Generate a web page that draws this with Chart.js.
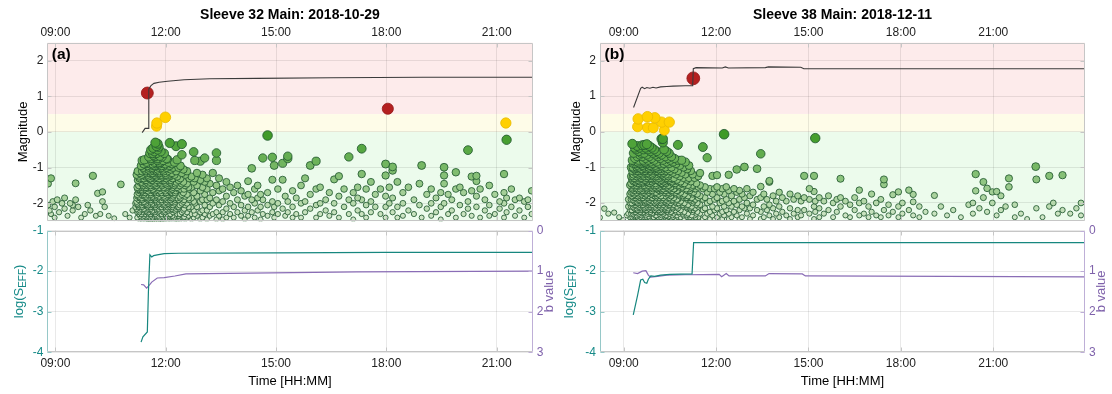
<!DOCTYPE html>
<html><head><meta charset="utf-8">
<script src="https://cdn.jsdelivr.net/npm/chart.js@4.4.1/dist/chart.umd.min.js"></script>
<style>
html,body{margin:0;padding:0;background:#fff;}
#wrap{position:relative;width:1112px;height:394px;overflow:hidden;background:#fff;}
canvas{position:absolute;}
</style></head><body>
<div id="wrap">
<canvas id="ta" width="556" height="228" style="left:0;top:0"></canvas>
<canvas id="tb" width="556" height="228" style="left:556px;top:0"></canvas>
<canvas id="ba" width="556" height="170" style="left:0;top:224px"></canvas>
<canvas id="bb" width="556" height="170" style="left:556px;top:224px"></canvas>
</div>
<script>
// ---------------- DATA ----------------
const titleA = 'Sleeve 32 Main: 2018-10-29';
const titleB = 'Sleeve 38 Main: 2018-12-11';
const panelLabels = ['(a)', '(b)'];
const timeTicks = [9, 12, 15, 18, 21];      // hours
const magTicks = [-2, -1, 0, 1, 2];
const sTicks = [-4, -3, -2, -1];
const bTicks = [0, 1, 2, 3];
const xRangeA = [8.78, 21.98];
const xRangeB = [8.23, 23.98];
const magRange = [-2.5, 2.5];
const bandLimits = [-2.5, 0, 0.5, 2.5];     // green / yellow / red zones

// events, panel (a): [time (h), magnitudes...]
const quakesA = [
[8.80,-1.45,-2.05],[8.84,-2.2],[8.88,-1.3,-2.3],[8.93,-1.95],[8.98,-2.1,-2.4],[9.05,-1.9],[9.1,-2.25],[9.18,-2.0],[9.25,-2.15,-1.85],[9.33,-2.35],[9.4,-2.0],[9.47,-2.05,-2.2],[9.55,-1.44,-1.9],[9.62,-2.1],[9.7,-2.4],[9.8,-2.3],[9.88,-2.05],[9.95,-2.2],[10.02,-1.23],[10.1,-2.35],[10.15,-1.72],[10.22,-2.3],[10.28,-1.68,-1.95],[10.34,-2.1],[10.45,-2.35],[10.6,-2.42],[10.78,-1.47],[10.9,-2.3],[11.02,-2.4],[11.1,-2.2],
[11.18,-2.0,-2.1],[11.21,-1.85,-1.2,-1.95,-2.15],[11.24,-1.1,-1.35,-1.6,-1.8,-2.05,-2.2],[11.27,-1.25,-1.5,-1.7,-1.9,-2.1,-2.3],[11.30,-1.15,-1.4,-1.65,-1.85,-2.0,-2.2,-2.35],[11.33,-0.95,-1.3,-1.55,-1.75,-1.95,-2.15,-2.4],[11.36,-0.8,-1.1,-1.45,-1.65,-1.9,-2.1,-2.25,-2.45],[11.39,-1.0,-1.2,-1.5,-1.7,-1.85,-2.05,-2.3,-2.4],[11.42,-0.78,-1.05,-1.35,-1.6,-1.8,-2.0,-2.2,-2.35],[11.45,-0.9,-1.25,-1.45,-1.7,-1.95,-2.15,-2.3,-2.45],[11.48,-0.85,-1.15,-1.4,-1.65,-1.85,-2.05,-2.25,-2.4],[11.51,-0.95,-1.2,-1.5,-1.75,-1.9,-2.1,-2.2,-2.35,-2.45],[11.54,-0.7,-1.0,-1.3,-1.55,-1.8,-2.0,-2.15,-2.3,-2.45],[11.57,-0.6,-0.9,-1.15,-1.4,-1.6,-1.85,-2.05,-2.25,-2.4],[11.60,-0.5,-0.8,-1.05,-1.35,-1.55,-1.75,-1.95,-2.15,-2.35,-2.45],[11.63,-0.75,-1.0,-1.25,-1.45,-1.7,-1.9,-2.1,-2.3,-2.45],[11.66,-0.45,-0.65,-0.95,-1.2,-1.5,-1.65,-1.85,-2.05,-2.25,-2.4],[11.69,-0.55,-0.85,-1.1,-1.3,-1.6,-1.8,-2.0,-2.2,-2.35,-2.48],[11.72,-0.3,-0.68,-0.9,-1.15,-1.4,-1.7,-1.9,-2.1,-2.3,-2.45],[11.75,-0.4,-0.6,-0.95,-1.25,-1.5,-1.75,-1.95,-2.15,-2.35,-2.48],[11.78,-0.33,-0.5,-0.8,-1.05,-1.3,-1.6,-1.85,-2.05,-2.25,-2.4],[11.81,-0.42,-0.75,-1.0,-1.2,-1.45,-1.7,-1.95,-2.15,-2.35,-2.47],[11.84,-0.68,-0.9,-1.15,-1.4,-1.65,-1.9,-2.1,-2.3,-2.45],[11.87,-0.55,-0.85,-1.1,-1.35,-1.55,-1.8,-2.0,-2.2,-2.4],[11.90,-0.7,-1.0,-1.25,-1.5,-1.75,-1.95,-2.15,-2.35,-2.48],[11.93,-0.8,-1.05,-1.3,-1.6,-1.85,-2.05,-2.25,-2.42],[11.96,-0.6,-0.95,-1.2,-1.45,-1.7,-1.9,-2.1,-2.3,-2.45],[11.99,-0.9,-1.15,-1.4,-1.65,-1.85,-2.05,-2.25,-2.4],[12.02,-0.75,-1.0,-1.3,-1.55,-1.8,-2.0,-2.2,-2.38],[12.05,-0.76,-1.1,-1.35,-1.6,-1.9,-2.1,-2.3,-2.45],[12.08,-0.85,-1.2,-1.45,-1.7,-1.95,-2.15,-2.35],[12.11,-0.31,-0.95,-1.25,-1.5,-1.75,-2.0,-2.2,-2.4],[12.14,-1.05,-1.35,-1.6,-1.85,-2.05,-2.3,-2.45],[12.17,-0.9,-1.15,-1.45,-1.7,-1.95,-2.15,-2.35],[12.20,-1.0,-1.3,-1.55,-1.8,-2.05,-2.25,-2.42],[12.24,-0.85,-1.2,-1.5,-1.75,-2.0,-2.2,-2.4],[12.28,-0.4,-1.1,-1.4,-1.65,-1.9,-2.15,-2.35],[12.31,-0.78,-1.25,-1.55,-1.85,-2.1,-2.3,-2.45],[12.35,-1.0,-1.35,-1.6,-1.9,-2.1,-2.35],[12.40,-0.95,-1.3,-1.6,-1.85,-2.05,-2.3,-2.45],[12.44,-0.34,-0.64,-1.15,-1.45,-1.75,-2.0,-2.25,-2.4],[12.48,-1.05,-1.4,-1.7,-1.95,-2.2,-2.4],[12.53,-1.2,-1.5,-1.8,-2.05,-2.3,-2.45],[12.58,-1.1,-1.45,-1.75,-2.0,-2.25,-2.4],[12.64,-1.3,-1.6,-1.9,-2.15,-2.35],[12.70,-1.25,-1.55,-1.85,-2.1,-2.3,-2.45],[12.76,-0.56,-1.4,-1.7,-1.95,-2.2,-2.4],[12.79,-0.8,-1.3,-2.0,-2.3],[12.85,-1.15,-1.5,-1.8,-2.1,-2.35],[12.94,-0.82,-1.35,-1.65,-1.95,-2.25,-2.45],[13.00,-1.2,-1.55,-1.9,-2.2,-2.4],[13.06,-0.73,-1.4,-1.75,-2.05,-2.3],[13.12,-1.3,-1.6,-1.9,-2.2,-2.45],[13.20,-1.45,-1.85,-2.1,-2.35],[13.28,-1.15,-1.7,-2.0,-2.3],[13.38,-0.59,-0.8,-1.5,-1.9,-2.25,-2.45],[13.45,-1.3,-1.65,-2.05,-2.35],[13.55,-1.6,-1.95,-2.25,-2.45],[13.65,-1.4,-1.8,-2.15,-2.4],[13.75,-1.55,-2.0,-2.3],[13.85,-1.7,-2.1,-2.4],[13.95,-1.5,-1.9,-2.25],[14.05,-1.65,-2.05,-2.35],[14.15,-1.8,-2.2,-2.45],[14.24,-1.38,-1.75,-2.1,-2.35],[14.34,-1.02,-1.9,-2.25],[14.42,-1.6,-2.0,-2.4],[14.50,-1.5,-1.85,-2.2],[14.58,-1.75,-2.1,-2.45],[14.64,-0.73,-1.9,-2.3],[14.77,-0.10,-1.7,-2.05,-2.35],[14.9,-0.71,-1.34,-1.95,-2.25],[14.95,-0.94,-2.1,-2.4],[15.05,-1.6,-2.0,-2.3],[15.18,-0.88,-1.34,-2.15],[15.25,-1.8,-2.35],[15.32,-0.68,-0.75,-1.95,-2.25],[15.45,-1.65,-2.1,-2.4],[15.55,-1.85,-2.3],[15.68,-1.5,-2.0,-2.4],[15.79,-1.3,-1.95,-2.25],[15.93,-0.94,-1.75,-2.15],[16.09,-0.82,-1.6,-2.05,-2.4],[16.2,-1.55,-2.0,-2.3],[16.35,-1.9,-2.2],[16.45,-1.7,-2.35],[16.58,-1.33,-2.0,-2.25],[16.71,-1.24,-1.8,-2.4],[16.85,-1.6,-2.1],[16.98,-0.70,-1.9,-2.3],[17.1,-1.7,-2.0,-2.45],[17.22,-1.55,-1.85,-2.2],[17.33,-0.47,-1.18,-1.9,-2.3],[17.45,-1.6,-2.05,-2.4],[17.58,-1.4,-1.95,-2.25],[17.7,-1.75,-2.1],[17.84,-1.6,-2.3],[17.98,-0.90,-1.22,-1.8,-2.1,-2.4],[18.08,-1.55,-2.0],[18.17,-0.98,-1.08,-1.85,-2.25],[18.3,-1.4,-2.1,-2.4],[18.45,-1.7,-2.0,-2.35],[18.6,-1.55,-2.2],[18.75,-1.9,-2.3],[18.9,-1.45,-2.05],[18.96,-0.94,-2.4],[19.1,-1.75,-2.15],[19.22,-1.6,-2.0,-2.35],[19.35,-1.85,-2.25],[19.48,-1.7,-2.1,-2.45],[19.57,-0.99,-1.22,-1.45,-2.0],[19.68,-1.75,-2.3],[19.78,-1.9,-2.2],[19.89,-1.13,-1.6,-2.4],[20.0,-1.55,-2.05],[20.1,-1.7,-2.3],[20.22,-0.51,-1.95,-2.15],[20.32,-1.25,-1.65,-2.35],[20.45,-1.23,-1.38,-1.8,-2.1],[20.55,-1.6,-2.4],[20.68,-1.9,-2.2],[20.8,-1.5,-2.05,-2.35],[20.95,-1.75,-2.3],[21.08,-1.95,-2.15],[21.2,-1.18,-1.7,-2.0,-2.4],[21.27,-0.22,-1.85,-2.25],[21.4,-1.6,-2.1],[21.5,-1.9,-2.35],[21.62,-1.85,-2.2],[21.75,-1.95,-2.4],[21.85,-1.9,-2.1],[21.95,-1.65,-2.3],
[11.225,-1.55,-1.75,-2.0,-2.25,-2.4],[11.285,-1.3,-1.6,-1.8,-2.05,-2.25,-2.45],[11.345,-1.2,-1.4,-1.6,-1.85,-2.05,-2.3],[11.405,-0.9,-1.3,-1.55,-1.75,-1.95,-2.15,-2.35],[11.465,-1.1,-1.35,-1.55,-1.8,-2.0,-2.2,-2.38],[11.525,-1.05,-1.25,-1.45,-1.65,-1.85,-2.05,-2.25,-2.42],[11.585,-0.75,-1.1,-1.3,-1.5,-1.7,-1.9,-2.1,-2.3,-2.48],[11.645,-0.6,-0.9,-1.15,-1.35,-1.6,-1.8,-2.0,-2.2,-2.4],[11.705,-0.7,-0.95,-1.2,-1.45,-1.65,-1.85,-2.05,-2.25,-2.42],[11.765,-0.75,-1.1,-1.35,-1.55,-1.8,-2.0,-2.2,-2.4],[11.825,-0.85,-1.1,-1.3,-1.55,-1.8,-2.0,-2.2,-2.4],[11.885,-0.95,-1.2,-1.45,-1.7,-1.9,-2.1,-2.3,-2.45],[11.945,-1.1,-1.35,-1.55,-1.8,-2.0,-2.2,-2.4],[12.005,-1.2,-1.45,-1.7,-1.95,-2.15,-2.35],[12.065,-1.25,-1.5,-1.75,-2.0,-2.2,-2.4],[12.125,-1.4,-1.65,-1.9,-2.1,-2.3],[12.185,-1.3,-1.6,-1.85,-2.1,-2.35],[12.26,-1.45,-1.7,-1.95,-2.2,-2.45],[12.38,-1.5,-1.8,-2.05,-2.3],[12.5,-1.6,-1.9,-2.15,-2.38],[12.62,-1.55,-1.85,-2.1,-2.35],
[11.50,1.09],[18.04,0.65],[11.75,0.16],[11.76,0.25],[11.99,0.41],[21.25,0.25]
];

// events, panel (b)
const quakesB = [
[8.23,-2.41],[8.37,-2.16],[8.5,-2.3],[8.69,-2.27],[8.85,-2.4],[8.98,-2.48],[9.1,-2.35],
[9.15,-1.9,-2.1,-2.3],[9.2,-1.5,-1.75,-2.0,-2.2,-2.4],[9.24,-1.0,-1.25,-1.45,-1.7,-1.9,-2.1,-2.3,-2.45],[9.28,-0.34,-0.8,-1.1,-1.35,-1.6,-1.8,-2.0,-2.2,-2.4],[9.32,-0.6,-0.9,-1.2,-1.4,-1.65,-1.85,-2.05,-2.25,-2.45],[9.36,-0.45,-0.75,-1.0,-1.3,-1.55,-1.75,-1.95,-2.15,-2.35],[9.40,-0.5,-0.85,-1.1,-1.35,-1.6,-1.8,-2.0,-2.2,-2.4],[9.44,-0.4,-0.7,-0.95,-1.2,-1.45,-1.7,-1.9,-2.1,-2.3,-2.47],[9.48,-0.55,-0.8,-1.05,-1.3,-1.5,-1.75,-1.95,-2.15,-2.35],[9.52,-0.45,-0.65,-0.9,-1.15,-1.4,-1.6,-1.85,-2.05,-2.25,-2.45],[9.56,-0.6,-0.85,-1.1,-1.3,-1.55,-1.8,-2.0,-2.2,-2.4],[9.60,-0.38,-0.7,-0.95,-1.25,-1.45,-1.7,-1.9,-2.1,-2.3,-2.46],[9.64,-0.5,-0.8,-1.05,-1.35,-1.6,-1.85,-2.05,-2.25,-2.45],[9.67,-0.37,-0.6,-0.9,-1.15,-1.4,-1.65,-1.9,-2.1,-2.3],[9.71,-0.45,-0.75,-1.0,-1.25,-1.5,-1.75,-1.95,-2.15,-2.35,-2.48],[9.75,-0.35,-0.65,-0.85,-1.1,-1.35,-1.6,-1.8,-2.0,-2.2,-2.4],[9.79,-0.5,-0.8,-1.05,-1.3,-1.55,-1.8,-2.05,-2.25,-2.45],[9.83,-0.4,-0.7,-0.95,-1.2,-1.45,-1.7,-1.9,-2.1,-2.3],[9.87,-0.55,-0.85,-1.1,-1.4,-1.65,-1.85,-2.05,-2.25,-2.45],[9.91,-0.45,-0.75,-1.0,-1.25,-1.5,-1.75,-1.95,-2.15,-2.4],[9.95,-0.6,-0.9,-1.15,-1.35,-1.6,-1.85,-2.1,-2.3,-2.48],[9.99,-0.5,-0.8,-1.05,-1.3,-1.55,-1.8,-2.0,-2.2,-2.4],[10.03,-0.65,-0.95,-1.2,-1.45,-1.7,-1.9,-2.1,-2.35],[10.07,-0.55,-0.85,-1.1,-1.35,-1.6,-1.85,-2.05,-2.25,-2.45],[10.11,-0.7,-1.0,-1.25,-1.5,-1.75,-1.95,-2.15,-2.4],[10.15,-0.6,-0.9,-1.15,-1.4,-1.65,-1.9,-2.1,-2.3,-2.47],[10.19,-0.75,-1.05,-1.3,-1.55,-1.8,-2.0,-2.2,-2.4],[10.23,-0.2,-0.65,-0.95,-1.2,-1.45,-1.7,-1.95,-2.15,-2.35],[10.27,-0.3,-0.8,-1.1,-1.35,-1.6,-1.85,-2.05,-2.25,-2.45],[10.31,-0.5,-0.9,-1.15,-1.4,-1.65,-1.9,-2.1,-2.3],[10.35,-0.7,-1.0,-1.3,-1.55,-1.8,-2.0,-2.2,-2.42],[10.39,-0.55,-0.85,-1.1,-1.4,-1.7,-1.95,-2.15,-2.35],[10.43,-0.75,-1.05,-1.35,-1.6,-1.85,-2.05,-2.25,-2.45],[10.47,-0.6,-0.9,-1.2,-1.5,-1.75,-2.0,-2.2,-2.4],[10.51,-0.8,-1.1,-1.4,-1.65,-1.9,-2.1,-2.3],[10.55,-0.7,-1.0,-1.3,-1.55,-1.8,-2.05,-2.25,-2.45],[10.60,-0.85,-1.15,-1.45,-1.7,-1.95,-2.15,-2.4],[10.65,-0.75,-1.05,-1.35,-1.6,-1.9,-2.1,-2.35],[10.70,-0.9,-1.2,-1.5,-1.75,-2.0,-2.25,-2.45],[10.76,-0.37,-0.8,-1.1,-1.4,-1.65,-1.9,-2.15,-2.4],[10.82,-0.95,-1.25,-1.55,-1.8,-2.05,-2.3],[10.88,-0.8,-1.15,-1.45,-1.75,-2.0,-2.25,-2.45],[10.94,-1.0,-1.3,-1.6,-1.85,-2.1,-2.35],[11.0,-0.85,-1.2,-1.5,-1.8,-2.05,-2.3,-2.48],[11.06,-1.05,-1.35,-1.65,-1.9,-2.15,-2.4],[11.12,-0.95,-1.3,-1.6,-1.85,-2.1,-2.35],[11.18,-1.1,-1.4,-1.7,-1.95,-2.2,-2.45],[11.24,-1.2,-1.5,-1.75,-2.0,-2.25,-2.4],[11.30,-1.3,-1.6,-1.9,-2.15,-2.35],[11.36,-1.45,-1.75,-2.05,-2.3,-2.48],[11.42,-1.25,-1.55,-1.85,-2.1,-2.4],[11.48,-1.16,-1.5,-1.8,-2.05,-2.3],[11.57,-0.43,-1.6,-1.9,-2.2,-2.45],[11.64,-1.55,-1.85,-2.15,-2.4],[11.71,-0.73,-1.7,-2.0,-2.3],[11.80,-1.6,-1.95,-2.25,-2.45],[11.88,-1.24,-1.75,-2.1,-2.35],[11.95,-1.6,-1.9,-2.2,-2.45],[12.03,-1.22,-1.55,-1.85,-2.15,-2.4],[12.12,-1.7,-2.0,-2.3],[12.20,-1.6,-1.95,-2.25,-2.45],[12.26,-0.07,-1.75,-2.1,-2.35],[12.33,-1.55,-1.9,-2.2],[12.41,-1.21,-1.65,-2.0,-2.3,-2.45],[12.50,-1.8,-2.1,-2.4],[12.58,-1.6,-1.95,-2.25],[12.67,-1.06,-1.7,-2.05,-2.35],[12.76,-1.65,-1.9,-2.2,-2.45],[12.84,-1.75,-2.1,-2.4],[12.92,-0.99,-1.85,-2.15],[13.0,-1.6,-2.0,-2.3],[13.1,-1.8,-2.15,-2.45],[13.2,-1.7,-2.05,-2.35],[13.33,-1.04,-1.9,-2.2],[13.45,-0.62,-1.54,-1.85,-2.25,-2.45],[13.55,-1.75,-2.1,-2.4],[13.65,-1.9,-2.2],[13.73,-1.38,-1.41,-2.05,-2.35],[13.85,-1.8,-2.15,-2.45],[13.95,-1.95,-2.3],[14.05,-1.7,-2.1,-2.4],[14.15,-1.85,-2.25],[14.28,-1.95,-2.35],[14.4,-1.75,-2.15,-2.45],[14.52,-1.9,-2.3],[14.65,-1.8,-2.2,-2.4],[14.76,-1.95,-2.35],[14.86,-1.24,-1.85,-2.2],[15.03,-1.6,-1.9,-2.3],[15.18,-1.24,-1.68,-2.1,-2.45],[15.22,-0.18,-1.95,-2.25],[15.35,-1.85,-2.15,-2.4],[15.5,-1.95,-2.3],[15.65,-1.8,-2.2],[15.8,-2.0,-2.4],[15.92,-1.9,-2.25],[16.04,-1.32,-1.85,-2.1],[16.2,-1.95,-2.35],[16.35,-2.05,-2.4],[16.5,-1.85,-2.2],[16.65,-1.64,-2.0,-2.35],[16.8,-1.95,-2.3],[16.95,-2.1,-2.4],[17.05,-1.75,-2.25],[17.2,-2.0,-2.35],[17.35,-1.9,-2.4],[17.45,-1.34,-1.48,-2.2],[17.6,-2.05,-2.35],[17.74,-1.77,-2.25],[17.92,-1.69,-2.1,-2.4],[18.05,-2.0,-2.3],[18.26,-1.64,-2.2],[18.4,-1.76,-1.97,-2.35],[18.6,-2.1,-2.4],[18.8,-2.25],[19.09,-1.79,-2.3],[19.3,-2.1],[19.5,-2.35],[19.7,-2.2],[19.95,-2.4],[20.2,-2.05],[20.34,-2.0,-2.3],[20.43,-1.19,-1.66],[20.55,-2.15],[20.68,-1.41,-1.85],[20.8,-1.59,-2.25],[20.97,-1.69,-2.0],[21.11,-1.68,-2.35],[21.25,-1.8,-2.2],[21.4,-2.1],[21.51,-1.31,-1.55],[21.7,-2.05,-2.4],[21.9,-2.3],[22.1,-2.45],[22.38,-0.98],[22.4,-1.34,-2.15],[22.6,-2.4],[22.82,-1.24,-2.1],[22.95,-2.0],[23.1,-2.3],[23.25,-1.22,-2.2],[23.5,-2.3],[23.7,-2.15],[23.85,-2.0,-2.35],
[9.26,-1.3,-1.55,-1.8,-2.0,-2.2,-2.45],[9.30,-1.0,-1.25,-1.5,-1.7,-1.9,-2.1,-2.3],[9.34,-1.05,-1.3,-1.5,-1.75,-1.95,-2.15,-2.38],[9.38,-0.9,-1.15,-1.4,-1.65,-1.85,-2.05,-2.25,-2.45],[9.42,-1.0,-1.25,-1.5,-1.7,-1.95,-2.15,-2.35],[9.46,-0.85,-1.1,-1.35,-1.6,-1.8,-2.0,-2.2,-2.42],[9.50,-1.0,-1.2,-1.45,-1.65,-1.9,-2.1,-2.3],[9.54,-0.9,-1.15,-1.4,-1.6,-1.85,-2.05,-2.25,-2.45],[9.58,-1.05,-1.3,-1.5,-1.75,-1.95,-2.15,-2.35],[9.62,-0.95,-1.2,-1.4,-1.65,-1.85,-2.05,-2.28,-2.45],[9.66,-1.0,-1.25,-1.5,-1.7,-1.95,-2.15,-2.4],[9.69,-0.85,-1.1,-1.35,-1.55,-1.8,-2.0,-2.2,-2.42],[9.73,-1.05,-1.3,-1.55,-1.75,-1.95,-2.2,-2.4],[9.77,-0.9,-1.15,-1.4,-1.65,-1.85,-2.1,-2.3],[9.81,-1.0,-1.25,-1.5,-1.7,-1.95,-2.15,-2.38],[9.85,-0.95,-1.2,-1.45,-1.65,-1.9,-2.1,-2.32],[9.89,-1.05,-1.3,-1.55,-1.75,-2.0,-2.2,-2.45],[9.93,-0.9,-1.2,-1.4,-1.65,-1.85,-2.05,-2.28],[9.97,-1.0,-1.25,-1.5,-1.7,-1.95,-2.15,-2.4],[10.01,-1.1,-1.35,-1.55,-1.8,-2.0,-2.2,-2.45],[10.05,-1.0,-1.25,-1.5,-1.7,-1.95,-2.15,-2.35],[10.09,-1.1,-1.35,-1.6,-1.8,-2.05,-2.25,-2.42],[10.13,-1.05,-1.3,-1.55,-1.75,-2.0,-2.2,-2.4],[10.17,-1.15,-1.4,-1.6,-1.85,-2.05,-2.25,-2.45],[10.21,-1.1,-1.35,-1.6,-1.8,-2.0,-2.25,-2.4],[10.25,-1.2,-1.45,-1.65,-1.9,-2.1,-2.3],[10.29,-1.15,-1.4,-1.6,-1.85,-2.05,-2.3,-2.45],[10.33,-1.25,-1.5,-1.7,-1.95,-2.15,-2.38],[10.37,-1.2,-1.45,-1.65,-1.9,-2.1,-2.35],[10.41,-1.3,-1.55,-1.75,-2.0,-2.2,-2.42],[10.45,-1.25,-1.5,-1.7,-1.95,-2.15,-2.38],[10.49,-1.35,-1.6,-1.85,-2.05,-2.3],[10.53,-1.3,-1.55,-1.8,-2.0,-2.25,-2.45],[10.58,-1.4,-1.65,-1.9,-2.1,-2.35],[10.63,-1.3,-1.6,-1.85,-2.05,-2.3],[10.68,-1.45,-1.7,-1.95,-2.2,-2.42],[10.73,-1.35,-1.65,-1.9,-2.1,-2.35],[10.79,-1.5,-1.75,-2.0,-2.25,-2.45],[10.85,-1.4,-1.7,-1.95,-2.2,-2.4],[10.91,-1.55,-1.8,-2.05,-2.3],[10.97,-1.45,-1.75,-2.0,-2.25,-2.45],[11.03,-1.6,-1.85,-2.1,-2.35],[11.09,-1.5,-1.8,-2.05,-2.3],[11.15,-1.65,-1.9,-2.15,-2.4],[11.21,-1.55,-1.85,-2.1,-2.35],[11.27,-1.7,-1.95,-2.2,-2.45],[11.33,-1.6,-1.9,-2.15,-2.4],[11.39,-1.75,-2.0,-2.25],
[10.27,-0.20],[11.26,1.50],[9.47,0.36],[9.77,0.42],[10.01,0.39],[10.23,0.27],[10.48,0.27],[9.45,0.14],[9.77,0.11],[9.96,0.11],[10.32,0.04]
];

// cumulative magnitude line [time, mag]
const cumA = [[11.36,-0.02],[11.44,0.10],[11.52,0.10],[11.54,1.20],[11.60,1.30],[11.68,1.36],[11.82,1.39],[12.05,1.42],[12.5,1.46],[13.2,1.49],[14.5,1.50],[16.5,1.52],[19.0,1.53],[21.98,1.53]];
const cumB = [[9.32,0.68],[9.55,1.22],[9.6,1.25],[9.68,1.21],[9.75,1.24],[9.85,1.22],[9.95,1.25],[10.05,1.23],[10.2,1.26],[10.4,1.27],[10.6,1.28],[11.0,1.29],[11.24,1.29],[11.26,1.77],[11.35,1.80],[12.2,1.79],[12.3,1.82],[12.4,1.79],[13.6,1.80],[13.7,1.82],[14.75,1.81],[14.85,1.77],[23.98,1.77]];
// log(S_EFF) [time, value]
const sEffA = [[11.33,-3.75],[11.38,-3.62],[11.5,-3.5],[11.53,-2.5],[11.57,-1.6],[11.62,-1.65],[11.67,-1.62],[11.77,-1.6],[11.96,-1.57],[12.35,-1.56],[15.0,-1.55],[18.0,-1.54],[21.98,-1.54]];
const sEffB = [[9.31,-3.08],[9.45,-2.6],[9.55,-2.22],[9.62,-2.2],[9.68,-2.28],[9.75,-2.3],[9.8,-2.2],[9.88,-2.12],[10.0,-2.13],[10.2,-2.1],[10.5,-2.08],[11.22,-2.07],[11.27,-1.3],[23.98,-1.3]];
// b value [time, value]
const bValA = [[11.33,1.33],[11.40,1.34],[11.48,1.42],[11.55,1.35],[11.62,1.27],[11.77,1.17],[11.96,1.16],[12.25,1.12],[12.55,1.07],[14.3,1.05],[17.2,1.02],[21.98,1.0]];
const bValB = [[9.31,1.04],[9.45,1.06],[9.6,1.0],[9.72,0.99],[9.8,1.1],[9.87,1.15],[9.95,1.14],[10.1,1.13],[10.4,1.1],[11.0,1.09],[12.1,1.08],[12.18,1.14],[12.25,1.1],[12.33,1.06],[12.42,1.12],[13.6,1.12],[13.72,1.06],[14.8,1.07],[14.9,1.12],[23.98,1.14]];

// ---------------- STYLE ----------------
const FONT = '"Liberation Sans", Arial, Helvetica, sans-serif';
const TEAL = '#168a88', PURPLE = '#7f62ab';
const TEAL_LINE = '#17877f', PURPLE_LINE = '#8a6db6';
const GRID = 'rgba(0,0,0,0.085)';
const FRAME = '#c6c6c6';
const bandColors = ['rgb(236,251,236)', 'rgb(254,252,232)', 'rgb(253,235,235)'];

function hhmm(v){ const h = Math.floor(v + 1e-9); const m = Math.round((v - h) * 60); return String(h).padStart(2,'0') + ':' + String(m).padStart(2,'0'); }
function pts(arr){ return arr.map(p => ({x: p[0], y: p[1]})); }
function flatEvents(cols){ const out = []; cols.forEach(c => { for (let i = 1; i < c.length; i++) out.push({x: c[0], y: c[i]}); }); out.sort((a,b) => a.y - b.y); return out; }
function magRadius(m){ return Math.max(2.0, 4.9 + 1.0 * m); }
function magFill(m){
  if (m > 0.5) return 'rgb(180,32,32)';
  if (m >= 0) return 'rgb(255,208,0)';
  const t = Math.max(0, Math.min(1, (m + 2.5) / 2.5));
  const c0 = [214,233,206], c1 = [58,152,34];
  const c = c0.map((v,i) => Math.round(v + (c1[i] - v) * t));
  return 'rgb(' + c.join(',') + ')';
}
function magEdge(m){
  if (m > 0.5) return 'rgb(150,26,26)';
  if (m >= 0) return 'rgb(232,186,0)';
  return 'rgb(34,90,48)';
}
function fixedTicks(list){ return s => { s.ticks = list.map(v => ({value: v})); }; }
function noPad(s){ s.paddingTop = 0; s.paddingBottom = 0; s.paddingLeft = 0; s.paddingRight = 0; }

const framePlugin = {
  id: 'frame',
  beforeDraw(chart, args, o){
    const {ctx, chartArea: a} = chart;
    if (o.bands){
      const y = chart.scales.y;
      for (let i = 0; i < bandLimits.length - 1; i++){
        const y0 = y.getPixelForValue(bandLimits[i]), y1 = y.getPixelForValue(bandLimits[i+1]);
        ctx.fillStyle = bandColors[i];
        ctx.fillRect(a.left, y1, a.right - a.left, y0 - y1);
      }
    }
  },
  afterDraw(chart, args, o){
    const {ctx, chartArea: a} = chart;
    ctx.save();
    ctx.lineWidth = 1;
    const line = (x0,y0,x1,y1,c) => { ctx.strokeStyle = c; ctx.beginPath(); ctx.moveTo(x0,y0); ctx.lineTo(x1,y1); ctx.stroke(); };
    const L = Math.round(a.left) + 0.5, R = Math.round(a.right) - 0.5, T = Math.round(a.top) + 0.5, B = Math.round(a.bottom) - 0.5;
    line(L, T, R, T, FRAME); line(L, B, R, B, FRAME);
    line(L, T, L, B, o.left || FRAME); line(R, T, R, B, o.right || FRAME);
    const x = chart.scales.x;
    timeTicks.forEach(v => { const px = Math.round(x.getPixelForValue(v)) + 0.5; line(px, T, px, T + 4, FRAME); line(px, B, px, B - 4, FRAME); });
    const y = chart.scales.y;
    y.ticks.forEach(t => { const py = Math.round(y.getPixelForValue(t.value)) + 0.5; line(L, py, L + 4, py, o.left || FRAME); if (!o.right) line(R, py, R - 4, py, FRAME); });
    if (chart.scales.y2){ const y2 = chart.scales.y2; y2.ticks.forEach(t => { const py = Math.round(y2.getPixelForValue(t.value)) + 0.5; line(R, py, R - 4, py, o.right); }); }
    if (o.label){
      ctx.fillStyle = '#000'; ctx.font = 'bold 15.5px ' + FONT; ctx.textBaseline = 'middle'; ctx.textAlign = 'left';
      ctx.fillText(o.label, a.left + 4.5, a.top + 12.5);
    }
    if (o.logX !== undefined){
      const yc = (a.top + a.bottom) / 2;
      ctx.translate(o.logX, yc); ctx.rotate(-Math.PI / 2);
      const parts = [['log(S', '13px ' + FONT, 0], ['EFF', '10px ' + FONT, 4], [')', '13px ' + FONT, 0]];
      let w = 0; parts.forEach(p => { ctx.font = p[1]; p.w = ctx.measureText(p[0]).width; w += p.w; });
      let cx = -w / 2; ctx.fillStyle = TEAL; ctx.textBaseline = 'middle'; ctx.textAlign = 'left';
      parts.forEach(p => { ctx.font = p[1]; ctx.fillText(p[0], cx, p[2]); cx += p.w; });
      ctx.setTransform(1,0,0,1,0,0);
      ctx.translate(o.bX, yc); ctx.rotate(-Math.PI / 2);
      ctx.font = '13px ' + FONT; ctx.textAlign = 'center'; ctx.fillStyle = PURPLE;
      ctx.fillText('b value', 0, 0);
    }
    ctx.restore();
  }
};

const base = {
  responsive: false, animation: false, events: [],
  plugins: {legend: {display: false}, tooltip: {enabled: false}}
};
const tickFont = {family: FONT, size: 12};
const titleFont = {family: FONT, size: 13};

function topChart(id, events, cum, xr, title, label, yw, rightPad, magPad){
  return new Chart(document.getElementById(id), {
    type: 'scatter',
    data: {datasets: [
      {data: pts(cum), showLine: true, borderColor: '#3a3a3a', borderWidth: 1.1, pointRadius: 0, order: 0, tension: 0},
      {data: flatEvents(events), order: 1,
       pointRadius: c => magRadius(c.raw.y),
       pointBackgroundColor: c => magFill(c.raw.y),
       pointBorderColor: c => magEdge(c.raw.y),
       pointBorderWidth: 0.85}
    ]},
    options: Object.assign({}, base, {
      layout: {padding: {left: 0, top: 0, right: rightPad, bottom: 6.3}},
      plugins: Object.assign({}, base.plugins, {frame: {bands: true, label: label}}),
      scales: {
        x: {type: 'linear', position: 'top', min: xr[0], max: xr[1],
            afterBuildTicks: fixedTicks(timeTicks),
            ticks: {callback: v => hhmm(v), font: tickFont, color: '#222', padding: 3, maxRotation: 0, autoSkip: false},
            grid: {color: GRID, drawTicks: false}, border: {display: false},
            title: {display: true, text: title, color: '#000', font: {family: FONT, size: 14, weight: 'bold'}, padding: {top: 6.6, bottom: 0}},
            afterFit: s => { s.height = 42.7; noPad(s); }},
        y: {type: 'linear', min: magRange[0], max: magRange[1],
            afterBuildTicks: fixedTicks(magTicks),
            ticks: {font: tickFont, color: '#222', padding: 4},
            grid: {color: GRID, drawTicks: false}, border: {display: false},
            title: {display: true, text: 'Magnitude', color: '#000', font: titleFont, padding: {top: magPad, bottom: 0}},
            afterFit: s => { s.width = yw; noPad(s); }}
      }
    }),
    plugins: [framePlugin]
  });
}

function bottomChart(id, sEff, bVal, xr, yw, y2w, logX, bX){
  return new Chart(document.getElementById(id), {
    type: 'scatter',
    data: {datasets: [
      {data: pts(sEff), yAxisID: 'y', showLine: true, borderColor: TEAL_LINE, borderWidth: 1.2, pointRadius: 0, tension: 0},
      {data: pts(bVal), yAxisID: 'y2', showLine: true, borderColor: PURPLE_LINE, borderWidth: 1.2, pointRadius: 0, tension: 0}
    ]},
    options: Object.assign({}, base, {
      layout: {padding: {left: 0, top: 6.5, right: 0, bottom: 0}},
      plugins: Object.assign({}, base.plugins, {frame: {bands: false, left: 'rgb(150,200,200)', right: 'rgb(190,175,215)', logX: logX, bX: bX}}),
      scales: {
        x: {type: 'linear', position: 'bottom', min: xr[0], max: xr[1],
            afterBuildTicks: fixedTicks(timeTicks),
            ticks: {callback: v => hhmm(v), font: tickFont, color: '#222', padding: 3.8, maxRotation: 0, autoSkip: false},
            grid: {color: GRID, drawTicks: false}, border: {display: false},
            title: {display: true, text: 'Time [HH:MM]', color: '#000', font: titleFont, padding: {top: 0, bottom: 5.2}},
            afterFit: s => { s.height = 41.7; noPad(s); }},
        y: {type: 'linear', position: 'left', min: -4, max: -1,
            afterBuildTicks: fixedTicks(sTicks),
            ticks: {font: tickFont, color: TEAL, padding: 4},
            grid: {color: GRID, drawTicks: false}, border: {display: false},
            afterFit: s => { s.width = yw; noPad(s); }},
        y2: {type: 'linear', position: 'right', min: 0, max: 3, reverse: true,
            afterBuildTicks: fixedTicks(bTicks),
            ticks: {font: tickFont, color: PURPLE, padding: 4},
            grid: {display: false, drawTicks: false}, border: {display: false},
            afterFit: s => { s.width = y2w; noPad(s); }}
      }
    }),
    plugins: [framePlugin]
  });
}

topChart('ta', quakesA, cumA, xRangeA, titleA, panelLabels[0], 47.3, 23.3, 15.2);
topChart('tb', quakesB, cumB, xRangeB, titleB, panelLabels[1], 44, 27, 12.2);
bottomChart('ba', sEffA, bValA, xRangeA, 47.3, 23.3, 19, 549);
bottomChart('bb', sEffB, bValB, xRangeB, 44, 27, 13, 545);
</script>
</body></html>
